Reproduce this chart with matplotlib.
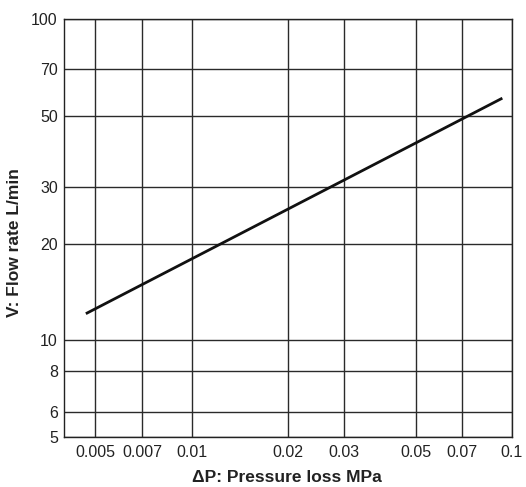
import matplotlib
matplotlib.use("Agg")
import matplotlib.pyplot as plt
from matplotlib.ticker import FixedLocator, FixedFormatter, NullLocator

plt.rcParams['font.family'] = ['Liberation Sans', 'DejaVu Sans']

# Data
pressure_loss = [0.00468, 0.0933]   # MPa
flow_rate = [12.1, 56.7]            # L/min

x_ticks = [0.005, 0.007, 0.01, 0.02, 0.03, 0.05, 0.07, 0.1]
x_labels = ["0.005", "0.007", "0.01", "0.02", "0.03", "0.05", "0.07", "0.1"]
y_ticks = [5, 6, 8, 10, 20, 30, 50, 70, 100]
y_labels = ["5", "6", "8", "10", "20", "30", "50", "70", "100"]

fig = plt.figure(figsize=(5.26, 4.87), dpi=100)
ax = fig.add_axes([64/526, 1 - 437/487, (512-64)/526, (437-19)/487])
ax.set_xscale('log')
ax.set_yscale('log')
ax.set_xlim(0.004, 0.1)
ax.set_ylim(5, 100)

ax.xaxis.set_major_locator(FixedLocator(x_ticks))
ax.xaxis.set_major_formatter(FixedFormatter(x_labels))
ax.xaxis.set_minor_locator(NullLocator())
ax.yaxis.set_major_locator(FixedLocator(y_ticks))
ax.yaxis.set_major_formatter(FixedFormatter(y_labels))
ax.yaxis.set_minor_locator(NullLocator())

ax.grid(True, which='major', color='#2a2a2a', linewidth=1.0)
ax.set_axisbelow(True)
ax.tick_params(axis='x', length=0, labelsize=11.5, colors='#222222', pad=6)
ax.tick_params(axis='y', length=0, labelsize=11.5, colors='#222222', pad=4.5)
for s in ax.spines.values():
    s.set_color('#222222')
    s.set_linewidth(1.0)

ax.plot(pressure_loss, flow_rate, color='#111111', linewidth=2.0, solid_capstyle='butt')

ax.set_xlabel("ΔP: Pressure loss MPa", fontsize=12.5, fontweight='bold', color='#222222')
ax.set_ylabel("V: Flow rate L/min", fontsize=12.5, fontweight='bold', color='#222222')
ax.xaxis.set_label_coords(0.497, -0.0957)
ax.xaxis.label.set_va('center')
ax.yaxis.set_label_coords(-0.1116, 0.465)
ax.yaxis.label.set_va('center')

fig.savefig("out.png", dpi=100)
